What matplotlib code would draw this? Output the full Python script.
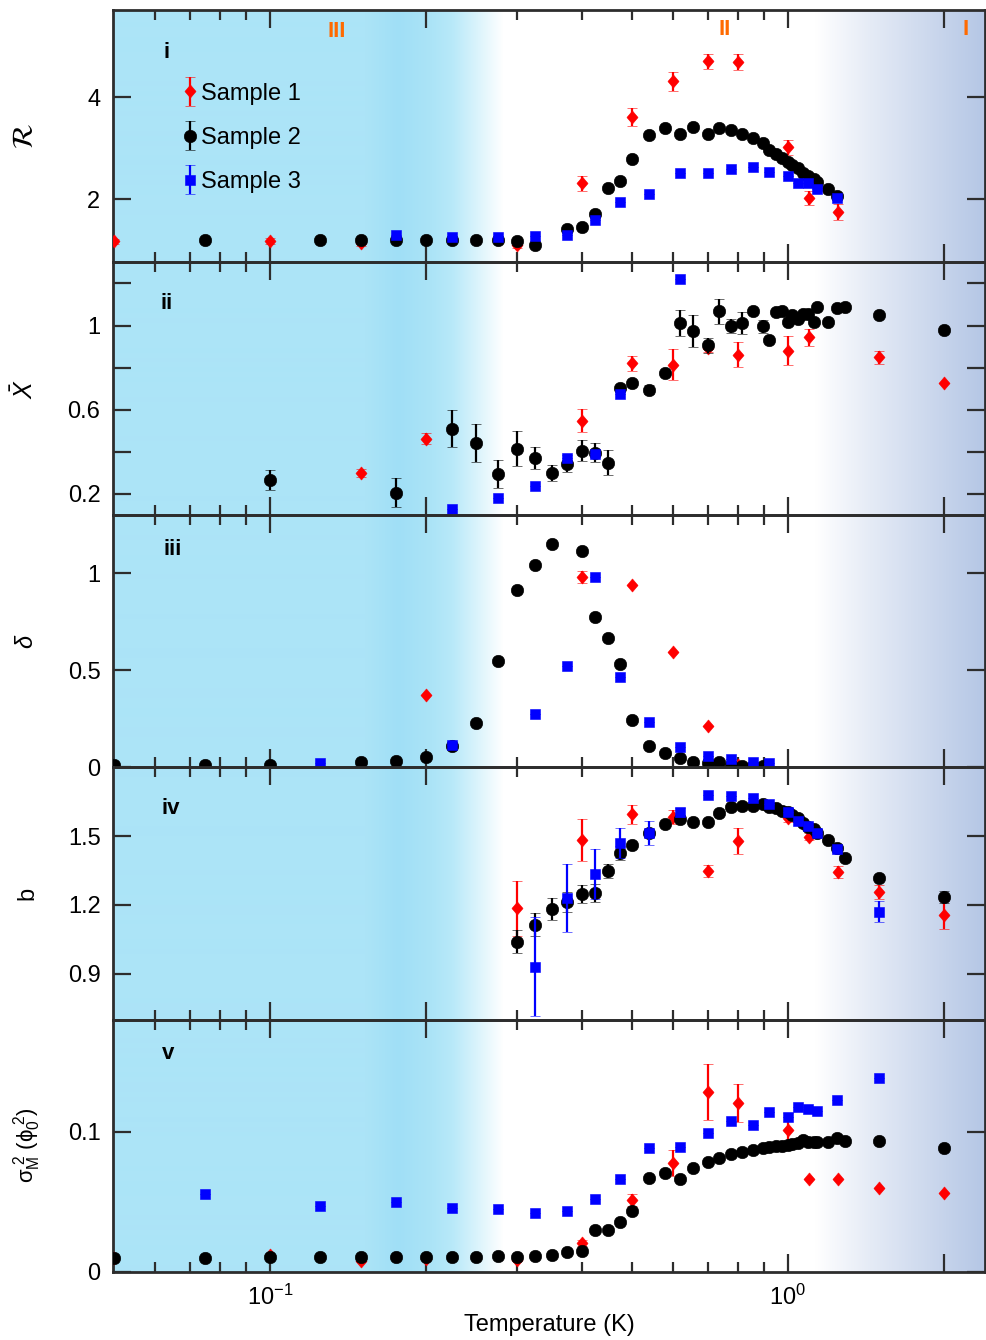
import numpy as np
import matplotlib
matplotlib.use("Agg")
import matplotlib.pyplot as plt
from matplotlib.path import Path
from matplotlib.ticker import FixedLocator, FixedFormatter, NullFormatter
from matplotlib.legend_handler import HandlerErrorbar
from matplotlib.container import ErrorbarContainer

plt.rcParams["font.family"] = ["Liberation Sans", "DejaVu Sans"]
plt.rcParams["mathtext.fontset"] = "custom"
plt.rcParams["mathtext.rm"] = "Liberation Sans"
plt.rcParams["mathtext.it"] = "Liberation Sans:italic"
plt.rcParams["mathtext.bf"] = "Liberation Sans:bold"
plt.rcParams["mathtext.sf"] = "Liberation Sans"

nan = np.nan

# ---------------- Sample 1 ----------------
T1 = [0.05, 0.1, 0.15, 0.2, 0.3, 0.4, 0.5, 0.6, 0.7, 0.8, 1.0, 1.1, 1.25, 1.5, 2.0]
R1 = [1.18, 1.18, 1.14, nan, 1.10, 2.31, 3.61, 4.31, 4.70, 4.69, 3.02, 2.02, 1.75, nan, nan]
R1_err = [0.05, 0.06, 0.05, 0, 0.05, 0.15, 0.17, 0.18, 0.15, 0.16, 0.15, 0.14, 0.15, 0, 0]
X1 = [nan, nan, 0.30, 0.462, nan, 0.548, 0.82, 0.814, 0.895, 0.862, 0.881, 0.943, nan, 0.848, 0.729]
X1_err = [0, 0, 0.02, 0.025, 0, 0.054, 0.037, 0.073, 0.02, 0.059, 0.071, 0.04, 0, 0.03, 0]
D1 = [nan, nan, nan, 0.371, nan, 0.979, 0.938, 0.593, 0.21, 0.01, nan, nan, nan, nan, nan]
D1_err = [0, 0, 0, 0, 0, 0.03, 0, 0, 0, 0, 0, 0, 0, 0, 0]
B1 = [nan, nan, nan, nan, 1.186, 1.483, 1.594, 1.583, 1.348, 1.478, 1.578, 1.497, 1.343, 1.255, 1.157]
B1_err = [0, 0, 0, 0, 0.12, 0.09, 0.041, 0.03, 0.025, 0.056, 0.015, 0.015, 0.025, 0.03, 0.062]
S1 = [0.01, 0.012, 0.008, 0.009, 0.0086, 0.0207, 0.0514, 0.0779, 0.1286, 0.1207, 0.1014, 0.0664, 0.0664, 0.060, 0.0564]
S1_err = [0, 0, 0, 0, 0, 0.002, 0.0043, 0.0093, 0.02, 0.0137, 0.012, 0, 0, 0, 0]

# ---------------- Sample 2 ----------------
T2 = [0.05, 0.075, 0.1, 0.125, 0.15, 0.175, 0.2, 0.225, 0.25, 0.275,
      0.3, 0.325, 0.35, 0.375, 0.4, 0.425, 0.45, 0.475, 0.5, 0.54,
      0.58, 0.62, 0.655, 0.7, 0.735, 0.775, 0.815, 0.855, 0.895, 0.92,
      0.95, 0.975, 1.0, 1.02, 1.045, 1.07, 1.095, 1.12, 1.14, 1.195,
      1.245, 1.29, 1.5, 2.0]
R2 = [nan, 1.2, nan, 1.2, 1.2, 1.2, 1.2, 1.2, 1.2, 1.2,
      1.18, 1.10, nan, 1.41, 1.45, 1.71, 2.22, 2.35, 2.78, 3.25,
      3.39, 3.27, 3.41, 3.27, 3.39, 3.35, 3.27, 3.20, 3.10, 2.96,
      2.88, 2.80, 2.74, 2.68, 2.61, 2.52, 2.45, 2.40, 2.33, 2.20,
      2.06, nan, nan, nan]
X2 = [nan, nan, 0.267, nan, nan, 0.205, nan, 0.51, 0.443, 0.295,
      0.414, 0.371, 0.30, 0.343, 0.405, 0.395, 0.348, 0.705, 0.729, 0.695,
      0.776, 1.013, 0.975, 0.905, 1.067, 0.996, 1.013, 1.067, 0.996, 0.933,
      1.062, 1.067, 1.019, 1.048, 1.029, 1.057, 1.057, 1.019, 1.086, 1.019,
      1.081, 1.086, 1.048, 0.98]
X2_err = [0, 0, 0.048, 0, 0, 0.07, 0, 0.09, 0.09, 0.066,
          0.083, 0.052, 0.038, 0.04, 0.05, 0.045, 0.06, 0, 0, 0.02,
          0, 0.063, 0.075, 0.037, 0.061, 0.033, 0.053, 0, 0.03, 0,
          0, 0, 0, 0, 0, 0, 0, 0, 0, 0,
          0, 0, 0, 0]
D2 = [0.01, 0.01, 0.01, nan, 0.025, 0.03, 0.05, 0.11, 0.23, 0.546,
      0.912, 1.041, 1.149, nan, 1.113, 0.773, 0.665, 0.531, 0.242, 0.108,
      0.072, 0.046, 0.026, 0.02, 0.025, 0.01, 0.005, 0.005, 0.005, nan,
      nan, nan, nan, nan, nan, nan, nan, nan, nan, nan,
      nan, nan, nan, nan]
B2 = [nan, nan, nan, nan, nan, nan, nan, nan, nan, nan,
      1.039, 1.113, 1.183, 1.213, 1.248, 1.252, 1.348, 1.426, 1.461, 1.512,
      1.551, 1.574, 1.562, 1.562, 1.599, 1.627, 1.631, 1.631, 1.639, 1.627,
      1.622, 1.61, 1.606, 1.593, 1.58, 1.556, 1.541, 1.531, 1.512, 1.483,
      1.448, 1.404, 1.317, 1.234]
B2_err = [0, 0, 0, 0, 0, 0, 0, 0, 0, 0,
          0.05, 0.05, 0.047, 0.045, 0.04, 0.04, 0.03, 0.03, 0, 0.015,
          0, 0, 0, 0, 0, 0, 0, 0, 0, 0,
          0, 0, 0, 0, 0, 0, 0, 0, 0, 0,
          0, 0, 0, 0.025]
S2 = [0.01, 0.01, 0.0107, 0.0107, 0.0107, 0.0107, 0.0107, 0.011, 0.011, 0.0114,
      0.0107, 0.0114, 0.012, 0.0143, 0.015, 0.03, 0.03, 0.0357, 0.0436, 0.067,
      0.0707, 0.0664, 0.0743, 0.0786, 0.0814, 0.0843, 0.0857, 0.0871, 0.0886, 0.0893,
      0.09, 0.09, 0.0907, 0.0914, 0.092, 0.094, 0.0929, 0.0929, 0.0929, 0.0929,
      0.0957, 0.0936, 0.0936, 0.0886]

# ---------------- Sample 3 ----------------
T3 = [0.075, 0.125, 0.175, 0.225, 0.275, 0.325, 0.375, 0.425, 0.475, 0.54,
      0.62, 0.7, 0.775, 0.855, 0.92, 1.0, 1.045, 1.095, 1.14, 1.245, 1.5]
R3 = [nan, nan, 1.31, 1.27, 1.27, 1.29, 1.31, 1.60, 1.94, 2.10,
      2.51, 2.51, 2.59, 2.63, 2.53, 2.45, 2.31, 2.31, 2.20, 2.02, nan]
X3 = [nan, nan, nan, 0.129, 0.18, 0.238, 0.371, 0.39, 0.676, nan,
      1.219, nan, nan, nan, nan, nan, nan, nan, nan, nan, nan]
D3 = [nan, 0.02, nan, 0.113, nan, 0.273, 0.52, 0.979, 0.464, 0.232,
      0.103, 0.057, 0.04, 0.026, 0.02, nan, nan, nan, nan, nan, nan]
B3 = [nan, nan, nan, nan, nan, 0.93, 1.23, 1.335, 1.47, 1.513,
      1.604, 1.678, 1.674, 1.665, 1.639, 1.604, 1.565, 1.543, 1.513, 1.443, 1.17]
B3_err = [0, 0, 0, 0, 0, 0.215, 0.148, 0.109, 0.067, 0.052,
          0.02, 0, 0, 0, 0, 0, 0, 0, 0, 0, 0.046]
S3 = [0.0557, 0.047, 0.05, 0.0457, 0.045, 0.042, 0.0436, 0.052, 0.0664, 0.0886,
      0.0893, 0.0993, 0.1079, 0.105, 0.114, 0.1107, 0.1179, 0.1164, 0.115, 0.1229, 0.1386]

sample_names = ["Sample 1", "Sample 2", "Sample 3"]
panel_tags = ["i", "ii", "iii", "iv", "v"]
region_tags = ["III", "II", "I"]

# ---------------- layout ----------------
W, H = 986, 1340
fig = plt.figure(figsize=(W / 100, H / 100), dpi=100)
x_left, x_right = 113, 985
y_top, y_bot = 10, 1272
ph = (y_bot - y_top) / 5

# regime shading behind all panels
bg = fig.add_axes([x_left / W, 1 - y_bot / H, (x_right - x_left) / W, (y_bot - y_top) / H])
bg.set_axis_off()
stop_px = [113, 365, 398, 432, 452, 478, 503, 815, 870, 986]
stop_rgb = [(172, 228, 247), (172, 228, 247), (160, 223, 246), (172, 228, 247),
            (184, 233, 249), (220, 244, 252), (255, 255, 255), (255, 255, 255),
            (229, 235, 246), (180, 198, 229)]
cols = np.arange(x_left, x_right + 1)
grad = np.stack([np.interp(cols, stop_px, [c[i] for c in stop_rgb]) for i in range(3)], axis=-1) / 255.0
bg.imshow(grad[None, :, :], extent=[0, 1, 0, 1], aspect="auto", interpolation="bilinear")
bg.set_xlim(0, 1)
bg.set_ylim(0, 1)

diamond = Path([(0, 1), (0.85, 0), (0, -1), (-0.85, 0), (0, 1)],
               [Path.MOVETO, Path.LINETO, Path.LINETO, Path.LINETO, Path.CLOSEPOLY])

RED, BLACK, BLUE = "#ff0000", "#000000", "#0000ff"
SPINE = "#2d2d2d"
FS = 17


def series(ax, T, y, e, color, marker, ms, z):
    if e is None:
        e = np.zeros(len(T))
    return ax.errorbar(T, y, yerr=e, linestyle="none",
                       marker=marker, markersize=ms, color=color, mfc=color, mec=color, mew=0.4,
                       ecolor=color, elinewidth=1.6, capsize=3.8, capthick=1.6, zorder=z)


panel_data = [
    (R1, R1_err, R2, None, R3, None),
    (X1, X1_err, X2, X2_err, X3, None),
    (D1, D1_err, D2, None, D3, None),
    (B1, B1_err, B2, B2_err, B3, B3_err),
    (S1, S1_err, S2, None, S3, None),
]
ylims = [(0.765, 5.706), (0.1, 1.3), (0.0, 1.3), (0.7, 1.8), (0.0, 0.18)]
yticks = [[2, 4], [0.2, 0.4, 0.6, 0.8, 1.0, 1.2], [0, 0.5, 1], [0.9, 1.2, 1.5], [0, 0.1]]
yticklabels = [["2", "4"], ["0.2", "", "0.6", "", "1", ""], ["0", "0.5", "1"],
               ["0.9", "1.2", "1.5"], ["0", "0.1"]]
ylabels = [r"$\mathcal{R}$", r"$\bar{X}$", r"$\delta$", "b",
           r"$\mathregular{\sigma_M^{\ 2}\ (\phi_0^{\ 2})}$"]
ylabel_size = [21, 18, 17, 17, 16]
ylabel_x = [-0.085, -0.086, -0.086, -0.086, -0.080]
tag_pos = [(0.061, 0.833), (0.062, 0.838), (0.068, 0.861), (0.066, 0.838), (0.063, 0.865)]

axes = []
handles = []
for k in range(5):
    y0 = 1 - (y_top + (k + 1) * ph) / H
    ax = fig.add_axes([x_left / W, y0, (x_right - x_left) / W, ph / H])
    ax.set_facecolor("none")
    axes.append(ax)
    y1, e1, y2, e2, y3, e3 = panel_data[k]
    h1 = series(ax, T1, y1, e1, RED, diamond, 9.4, 3)
    h2 = series(ax, T2, y2, e2, BLACK, "o", 9.0, 4)
    h3 = series(ax, T3, y3, e3, BLUE, "s", 7.6, 5)
    if k == 0:
        handles = [h1, h2, h3]

    ax.set_xscale("log")
    ax.set_xlim(0.0498, 2.40)
    ax.set_ylim(*ylims[k])
    ax.xaxis.set_major_locator(FixedLocator([0.1, 0.2, 1.0, 2.0]))
    ax.xaxis.set_minor_locator(FixedLocator([0.06, 0.07, 0.08, 0.09, 0.3, 0.4, 0.5,
                                             0.6, 0.7, 0.8, 0.9]))
    ax.xaxis.set_minor_formatter(NullFormatter())
    if k == 4:
        ax.xaxis.set_major_formatter(FixedFormatter([r"$\mathdefault{10^{-1}}$", "",
                                                     r"$\mathdefault{10^{0}}$", ""]))
    else:
        ax.xaxis.set_major_formatter(NullFormatter())
    ax.set_yticks(yticks[k])
    ax.set_yticklabels(yticklabels[k])
    ax.tick_params(which="both", direction="in", top=True, right=True,
                   color=SPINE, width=1.6, labelsize=FS, labelcolor="black")
    ax.tick_params(axis="x", which="major", length=13, pad=9)
    ax.tick_params(axis="x", which="minor", length=7)
    ax.tick_params(axis="y", which="major", length=13, pad=9)
    for s in ax.spines.values():
        s.set_color(SPINE)
        s.set_linewidth(2.0)
    ax.set_ylabel(ylabels[k], fontsize=ylabel_size[k],
                  math_fontfamily="stix" if k == 0 else None)
    ax.yaxis.set_label_coords(ylabel_x[k], 0.5)
    ax.text(tag_pos[k][0], tag_pos[k][1], panel_tags[k], transform=axes[k].transAxes,
            fontsize=16, fontweight="bold", ha="center", va="center")

axes[4].set_xlabel("Temperature (K)", fontsize=FS, labelpad=3)

# regime labels
for (xf, yf), tag in zip([(0.2566, 0.913), (0.701, 0.921), (0.978, 0.921)], region_tags):
    axes[0].text(xf, yf, tag, transform=axes[0].transAxes, color="#ff6a00",
                 fontsize=16, fontweight="bold", ha="center", va="center")

axes[0].legend(handles, sample_names, loc="upper left", bbox_to_anchor=(0.078, 0.712),
               frameon=False, fontsize=FS, handlelength=0.8, handletextpad=0.05,
               labelspacing=0.94, borderpad=0, borderaxespad=0,
               handler_map={ErrorbarContainer: HandlerErrorbar(xerr_size=0.62)})

fig.savefig("out.png", dpi=100)
